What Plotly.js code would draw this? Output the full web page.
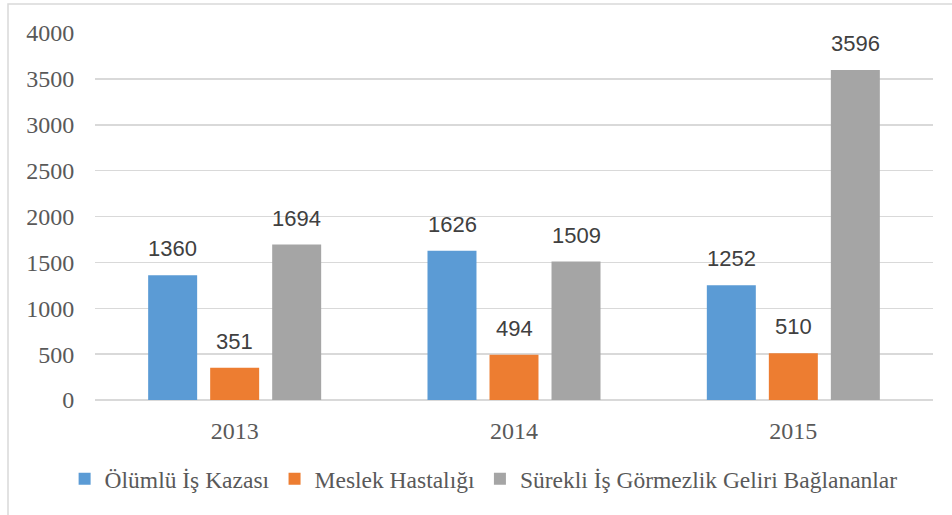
<!DOCTYPE html>
<html>
<head>
<meta charset="utf-8">
<script src="https://cdn.plot.ly/plotly-3.0.1.min.js"></script>
<style>
html,body{margin:0;padding:0;background:#fff;}
#chart{width:952px;height:515px;}
</style>
</head>
<body>
<div id="chart"></div>
<script>
const years = ["2013", "2014", "2015"];
const seriesNames = ["Ölümlü İş Kazası", "Meslek Hastalığı", "Sürekli İş Görmezlik Geliri Bağlananlar"];
const olumlu = [1360, 1626, 1252];
const meslek = [351, 494, 510];
const surekli = [1694, 1509, 3596];
const yTicks = [0, 500, 1000, 1500, 2000, 2500, 3000, 3500, 4000];
const colors = ["#5B9BD5", "#ED7D31", "#A5A5A5"];

const allSeries = [olumlu, meslek, surekli];
const traces = allSeries.map((vals, i) => ({
  type: "bar",
  name: seriesNames[i],
  x: years,
  y: vals,
  marker: {color: colors[i]},
  hoverinfo: "none"
}));

const offsets = [-62, 0, 62];
const annotations = [];
allSeries.forEach((vals, i) => {
  vals.forEach((v, j) => {
    annotations.push({
      xref: "x", yref: "y", x: j, y: v,
      text: String(v), showarrow: false,
      xshift: offsets[i], yshift: 12, yanchor: "bottom",
      font: {family: "Liberation Sans, Arial, sans-serif", size: 22, color: "#404040"}
    });
  });
});

const serif = "Liberation Serif, Times New Roman, serif";
const layout = {
  width: 952, height: 515,
  margin: {l: 95, r: 19, t: 33, b: 115},
  paper_bgcolor: "#fff", plot_bgcolor: "#fff",
  barmode: "group",
  bargap: 0.334,
  bargroupgap: 0.21,
  showlegend: true,
  legend: {
    orientation: "h", xref: "container", yref: "container",
    x: 0.508, xanchor: "center", y: 0.07, yanchor: "middle",
    font: {family: serif, size: 23.5, color: "#595959"},
    traceorder: "normal"
  },
  xaxis: {
    type: "category",
    range: [-0.5, 2.5],
    showgrid: false, zeroline: false, showline: false,
    ticks: "outside", ticklen: 9, tickcolor: "rgba(0,0,0,0)",
    tickfont: {family: serif, size: 24, color: "#595959"}
  },
  yaxis: {
    range: [0, 4000],
    tickvals: yTicks,
    ticktext: yTicks.map(String),
    showgrid: true, gridcolor: "#D9D9D9", gridwidth: 1.5,
    zeroline: true, zerolinecolor: "#D9D9D9", zerolinewidth: 1.5,
    showline: false, ticks: "outside", ticklen: 15, tickcolor: "rgba(0,0,0,0)",
    tickfont: {family: serif, size: 24, color: "#595959"}
  },
  annotations: annotations,
  shapes: [{
    type: "rect", xref: "paper", yref: "paper",
    x0: (8 - 95) / 838, x1: 1.2, y0: -0.5, y1: 1 + (33 - 4) / 367,
    line: {color: "#D9D9D9", width: 1.5}, fillcolor: "rgba(0,0,0,0)", layer: "below"
  }]
};

Plotly.newPlot("chart", traces, layout, {staticPlot: true});
</script>
</body>
</html>
